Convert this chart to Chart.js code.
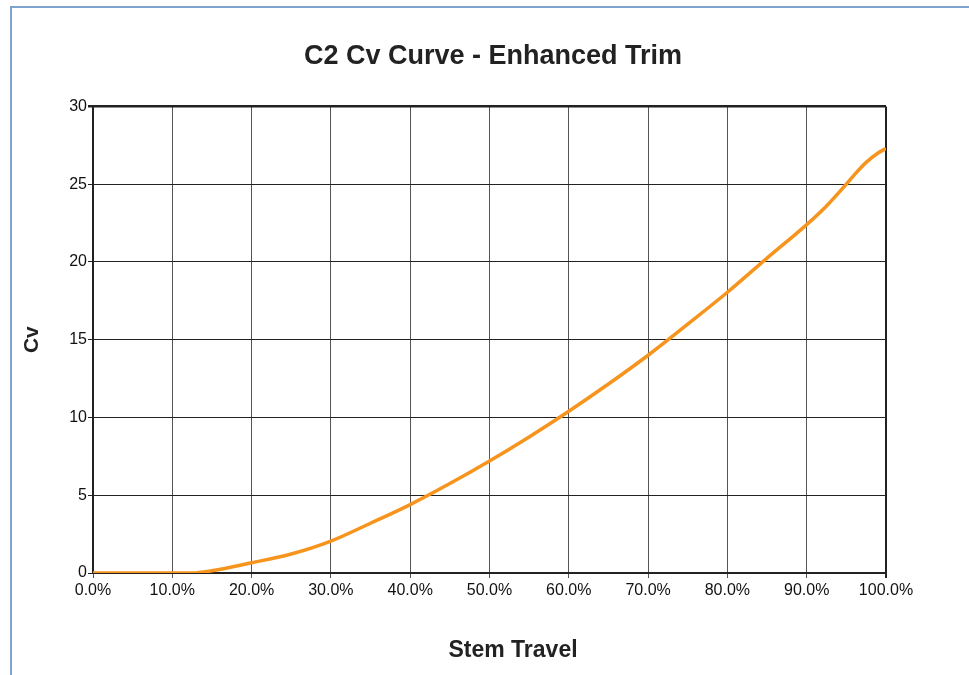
<!DOCTYPE html>
<html>
<head>
<meta charset="utf-8">
<script src="https://cdn.jsdelivr.net/npm/chart.js@4.4.1/dist/chart.umd.min.js"></script>
<style>
  html, body { margin: 0; padding: 0; background: #fff; overflow: hidden; }
  #wrap { position: relative; width: 969px; height: 675px; }
  #frame { position: absolute; left: 10px; top: 6px; width: 1000px; height: 700px;
           border-left: 2px solid #7ea3cf; border-top: 2px solid #7ea3cf; pointer-events: none; }
  canvas { position: absolute; left: 0; top: 0; }
</style>
</head>
<body>
<div id="wrap">
  <canvas id="cvChart" width="969" height="675"></canvas>
  <div id="frame"></div>
</div>
<script>
// stem travel (%) and Cv
const travel = [0, 5, 10, 12.5, 15, 20, 25, 30, 35, 40, 45, 50, 55, 60, 65, 70, 75, 80, 85, 90, 92.5, 95, 96, 97.5, 99, 100];
const cv = [0, 0, 0, 0, 0.15, 0.66, 1.22, 2.05, 3.2, 4.4, 5.75, 7.2, 8.75, 10.4, 12.15, 14.0, 16.0, 18.05, 20.25, 22.4, 23.6, 25.0, 25.6, 26.4, 27.0, 27.3];
const yTicks = [0, 5, 10, 15, 20, 25, 30];
const xTicks = [0, 10, 20, 30, 40, 50, 60, 70, 80, 90, 100];

const points = travel.map((t, i) => ({ x: t, y: cv[i] }));
const FONT = 'Liberation Sans, Arial, sans-serif';

// x axis title sits a bit right of the plot centre in the original
const xTitlePlugin = {
    id: 'xTitle',
    afterDraw(chart) {
        const c = chart.ctx;
        c.save();
        c.font = 'bold 23px ' + FONT;
        c.fillStyle = '#222';
        c.textAlign = 'center';
        c.textBaseline = 'middle';
        c.fillText('Stem Travel', 513, 651);
        c.restore();
    }
};

const ctx = document.getElementById('cvChart').getContext('2d');
const cvChart = new Chart(ctx, {
    type: 'line',
    data: {
        datasets: [{
            label: 'Cv',
            data: points,
            borderColor: '#f7941d',
            borderWidth: 3.5,
            pointRadius: 0,
            cubicInterpolationMode: 'monotone',
            fill: false
        }]
    },
    options: {
        responsive: false,
        animation: false,
        layout: { padding: { left: 17, right: 0, top: 0, bottom: 0 } },
        plugins: {
            legend: { display: false },
            tooltip: { enabled: false },
            title: {
                display: true,
                text: 'C2 Cv Curve - Enhanced Trim',
                color: '#222',
                font: { family: FONT, size: 27, weight: 'bold', lineHeight: 1.2 },
                padding: { top: 40, bottom: 34 }
            }
        },
        scales: {
            x: {
                type: 'linear',
                min: 0,
                max: 100,
                afterBuildTicks: (scale) => { scale.ticks = xTicks.map(v => ({ value: v })); },
                afterFit: (scale) => { scale.height = 102; },
                ticks: {
                    color: '#111',
                    padding: 3,
                    maxRotation: 0,
                    font: { family: FONT, size: 16 },
                    callback: (value) => value.toFixed(1) + '%'
                },
                grid: {
                    color: (c) => c.index === xTicks.length - 1 ? '#222' : '#555',
                    lineWidth: (c) => c.index === xTicks.length - 1 ? 2 : 1,
                    tickLength: 5
                },
                border: { color: '#222', width: 2 }
            },
            y: {
                min: 0,
                max: 30,
                afterBuildTicks: (scale) => { scale.ticks = yTicks.map(v => ({ value: v })); },
                afterFit: (scale) => { scale.width = 76; },
                ticks: {
                    color: '#111',
                    padding: 1,
                    font: { family: FONT, size: 16 }
                },
                grid: {
                    color: '#222',
                    lineWidth: (c) => c.index === yTicks.length - 1 ? 2.5 : 1,
                    tickLength: 5
                },
                border: { color: '#222', width: 2 },
                title: {
                    display: true,
                    text: 'Cv',
                    color: '#222',
                    font: { family: FONT, size: 21, weight: 'bold', lineHeight: 1.2 },
                    padding: { top: 3, bottom: 3 }
                }
            },
            // empty right-hand axis only reserves the blank margin
            yRight: {
                position: 'right',
                min: 0,
                max: 30,
                afterFit: (scale) => { scale.width = 83; },
                ticks: { display: false },
                grid: { display: false, drawTicks: false },
                border: { display: false }
            }
        }
    },
    plugins: [xTitlePlugin]
});
</script>
</body>
</html>
